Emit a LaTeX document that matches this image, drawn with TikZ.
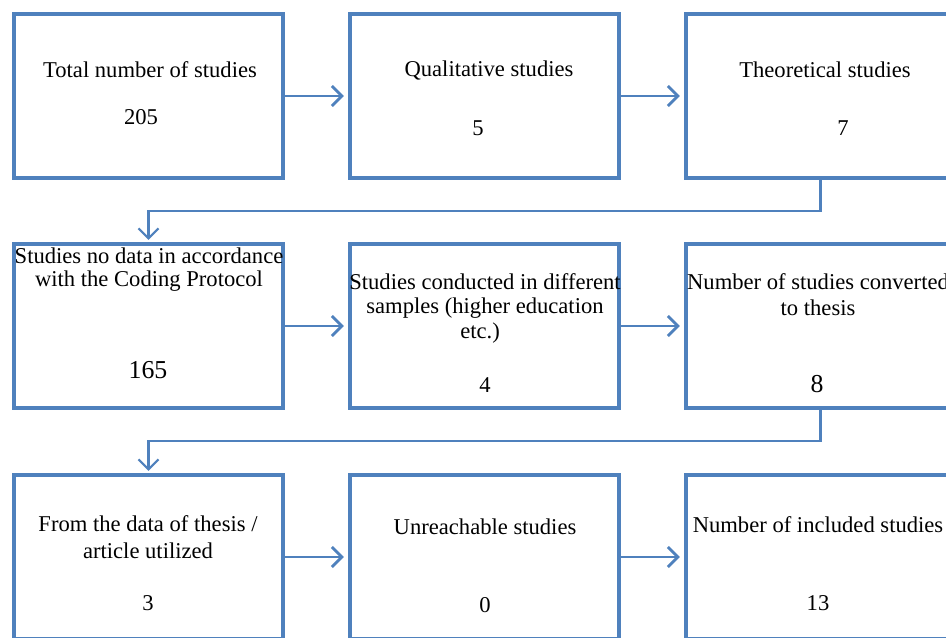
\documentclass[tikz,border=0pt]{standalone}
\usepackage{fontspec}
\setmainfont{Liberation Serif}
\usetikzlibrary{arrows.meta}
\definecolor{boxblue}{HTML}{4F81BD}
\begin{document}
\begin{tikzpicture}[x=0.5pt,y=-0.5pt,
  box/.style={draw=boxblue,line width=2.1pt,inner sep=0pt,minimum width=134.5pt,minimum height=82pt},
  txt/.style={inner sep=0pt,font=\fontsize{11.3}{13}\selectfont},
  big/.style={inner sep=0pt,font=\fontsize{12.9}{14}\selectfont},
  harrow/.style={draw=boxblue,line width=1.4pt,-{Straight Barb[length=5pt,width=10pt,line width=1.4pt]},shorten >=2pt},
  varrow/.style={draw=boxblue,line width=1.1pt,-{Straight Barb[length=5pt,width=10pt,line width=1.1pt]},shorten >=1pt}]
\useasboundingbox (0,0) rectangle (946,637);
\clip (0,0) rectangle (946,637);
\fill[white] (0,0) rectangle (946,637);
% boxes
\node[box] (b1) at (148.5,96) {};
\node[box] (b2) at (484.5,96) {};
\node[box] (b3) at (820.5,96) {};
\node[box] (b4) at (148.5,326) {};
\node[box] (b5) at (484.5,326) {};
\node[box] (b6) at (820.5,326) {};
\node[box] (b7) at (148.5,557) {};
\node[box] (b8) at (484.5,557) {};
\node[box] (b9) at (820.5,557) {};
% texts
\node[txt] (t1a) at (150,70) {Total number of studies};
\node[txt] (t1b) at (141,117) {205};
\node[txt] (t2a) at (489,70) {Qualitative studies};
\node[txt] (t2b) at (478,128) {5};
\node[txt] (t3a) at (825,70) {Theoretical studies};
\node[txt] (t3b) at (843,128) {7};
\node[txt] (t4a) at (149,256) {Studies no data in accordance};
\node[txt] (t4b) at (149,281) {with the Coding Protocol};
\node[big] (t4c) at (148,370) {165};
\node[txt] (t5a) at (485,282) {Studies conducted in different};
\node[txt] (t5b) at (485,308) {samples (higher education};
\node[txt] (t5c) at (480,333) {etc.)};
\node[txt] (t5d) at (485,385) {4};
\node[txt] (t6a) at (818,282) {Number of studies converted};
\node[txt] (t6b) at (818,308) {to thesis};
\node[big] (t6c) at (817,384) {8};
\node[txt] (t7a) at (148,524) {From the data of thesis /};
\node[txt] (t7b) at (148,551) {article utilized};
\node[txt] (t7c) at (148,603) {3};
\node[txt] (t8a) at (485,527) {Unreachable studies};
\node[txt] (t8b) at (485,605) {0};
\node[txt] (t9a) at (818,525) {Number of included studies};
\node[txt] (t9b) at (818,603) {13};
% horizontal arrows
\draw[harrow] (b1.east) -- (b2.west);
\draw[harrow] (b2.east) -- (b3.west);
\draw[harrow] (b4.east) -- (b5.west);
\draw[harrow] (b5.east) -- (b6.west);
\draw[harrow] (b7.east) -- (b8.west);
\draw[harrow] (b8.east) -- (b9.west);
% elbow connectors
\draw[varrow] (b3.south) -- ++(0,31) -| (b4.north);
\draw[varrow] (b6.south) -- ++(0,31) -| (b7.north);
\end{tikzpicture}
\end{document}
